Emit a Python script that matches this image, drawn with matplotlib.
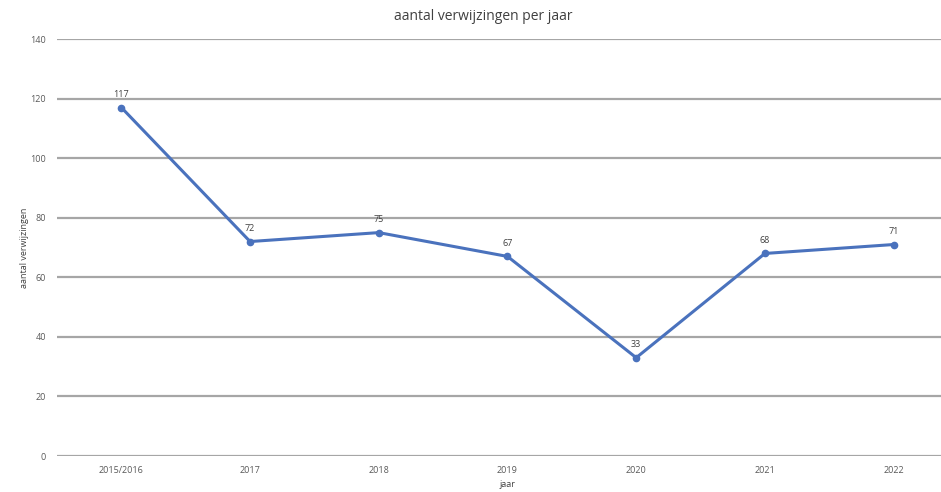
import matplotlib.pyplot as plt

jaren = ["2015/2016", "2017", "2018", "2019", "2020", "2021", "2022"]
verwijzingen = [117, 72, 75, 67, 33, 68, 71]

plt.rcParams['font.family'] = ['Open Sans', 'DejaVu Sans']

fig = plt.figure(figsize=(9.41, 4.92), dpi=100)
ax = fig.add_axes([57 / 941, 36 / 492, 901 / 941, 417 / 492])

x = list(range(len(jaren)))
ax.plot(x, verwijzingen, color="#4a72bd", linewidth=2.2, marker="o",
        markersize=4.5, zorder=3)
for xi, v in zip(x, verwijzingen):
    ax.annotate(str(v), (xi, v), xytext=(0, 6), textcoords="offset points",
                ha="center", va="bottom", fontsize=6.5, color="#404040")

ax.set_xlim(-0.5, 6.5)
ax.set_ylim(0, 140)
ax.set_yticks(range(0, 141, 20))
ax.set_xticks(x)
ax.set_xticklabels(jaren)
ax.tick_params(length=0, labelsize=6.5, colors="#595959", pad=8)
ax.tick_params(axis="x", pad=7)
ax.grid(axis="y", color="#a6a6a6", linewidth=1.6)
ax.set_axisbelow(True)
for s in ax.spines.values():
    s.set_visible(False)

# title sits centred on the full (uncropped) chart, not on the axes
fig.text(483 / 941, 1 - 16 / 492, "aantal verwijzingen per jaar", fontsize=10,
         color="#404040", ha="center", va="center")
ax.set_xlabel("jaar", fontsize=6.5, color="#404040", labelpad=4)
ax.set_ylabel("aantal verwijzingen", fontsize=6.5, color="#404040", labelpad=1)

fig.savefig("out.png", dpi=100)
